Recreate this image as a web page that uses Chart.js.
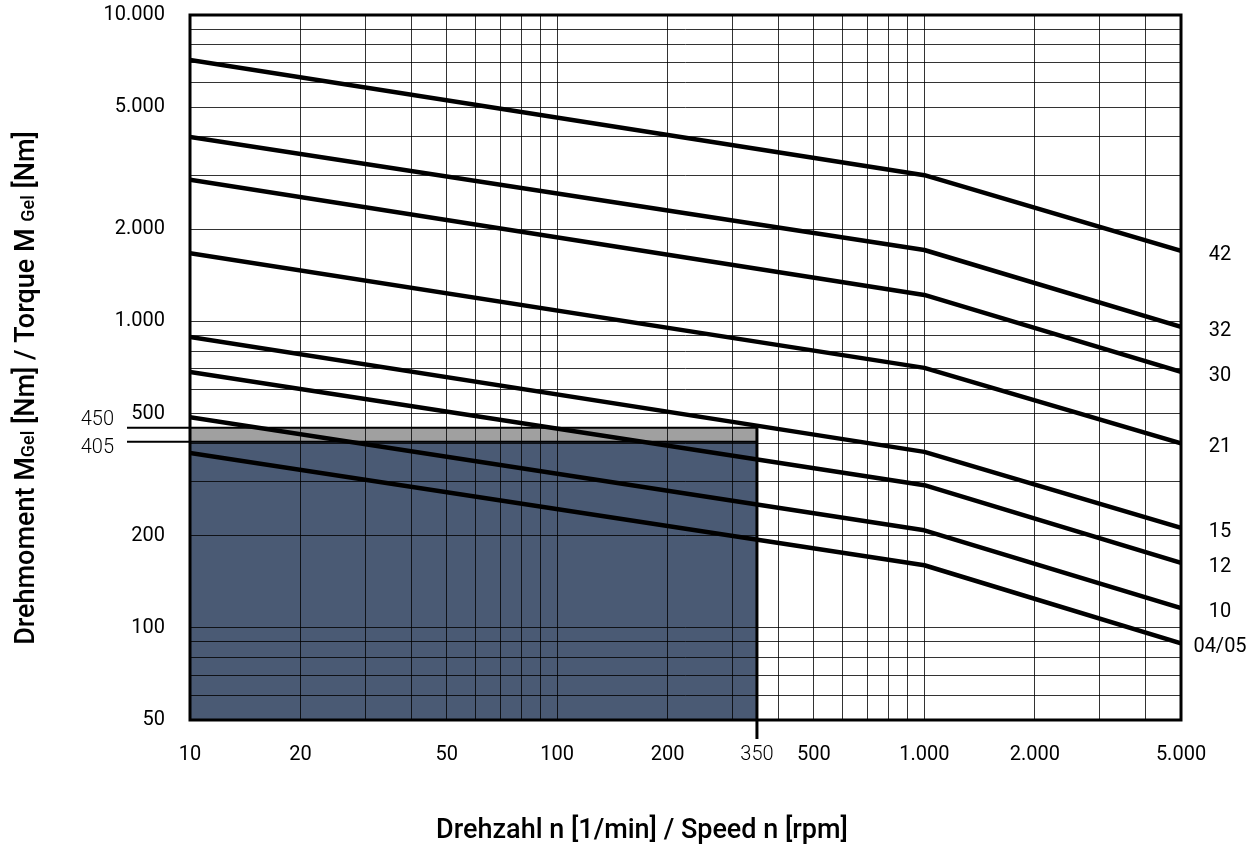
<!DOCTYPE html>
<html>
<head>
<meta charset="utf-8">
<script src="https://cdn.jsdelivr.net/npm/chart.js@4/dist/chart.umd.min.js"></script>
<style>
  html, body { margin: 0; padding: 0; background: #ffffff; }
  #wrap { width: 1259px; height: 850px; }
</style>
</head>
<body>
<div id="wrap"><canvas id="c" width="1259" height="850"></canvas></div>
<script>
// ---- data ----
const speeds = [10, 1000, 5000];
const seriesNames = ['42', '32', '30', '21', '15', '12', '10', '04/05'];
const torque42 = [7130, 3000, 1700];
const torque32 = [4000, 1710, 960];
const torque30 = [2900, 1220, 684];
const torque21 = [1670, 705, 400];
const torque15 = [890, 375, 212];
const torque12 = [684, 292, 163];
const torque10 = [487, 208, 116];
const torque0405 = [372, 160, 89];
const allTorques = [torque42, torque32, torque30, torque21, torque15, torque12, torque10, torque0405];

const xGridValues = [10,20,30,40,50,60,70,80,90,100,200,300,350,400,500,600,700,800,900,1000,2000,3000,4000,5000];
const xLabelValues = [10, 20, 50, 100, 200, 350, 500, 1000, 2000, 5000];
const xLabelTexts = ['10', '20', '50', '100', '200', '350', '500', '1.000', '2.000', '5.000'];
const yGridValues = [50,60,70,80,90,100,200,300,400,500,600,700,800,900,1000,2000,3000,4000,5000,6000,7000,8000,9000,10000];
const yLabelValues = [50, 100, 200, 500, 1000, 2000, 5000, 10000];
const yLabelTexts = ['50', '100', '200', '500', '1.000', '2.000', '5.000', '10.000'];

// permissible area
const areaSpeedMin = 10;
const areaSpeedMax = 350;
const areaTorqueLow = 405;
const areaTorqueHigh = 450;
const areaBottom = 50;
const markerLabels = ['450', '405'];

const FONT = 'Roboto, "Liberation Sans", sans-serif';

const areaPlugin = {
  id: 'area',
  beforeDraw(chart) {
    const ctx = chart.ctx;
    const xs = chart.scales.x, ys = chart.scales.y;
    const x0 = xs.getPixelForValue(areaSpeedMin), x1 = xs.getPixelForValue(areaSpeedMax);
    const yHi = ys.getPixelForValue(areaTorqueHigh), yLo = ys.getPixelForValue(areaTorqueLow);
    const yB = ys.getPixelForValue(areaBottom);
    ctx.save();
    ctx.fillStyle = '#a0a0a0';
    ctx.fillRect(x0, yHi, x1 - x0, yLo - yHi);
    ctx.fillStyle = '#4a5a74';
    ctx.fillRect(x0, yLo, x1 - x0, yB - yLo);
    ctx.restore();
  },
  afterDraw(chart) {
    const ctx = chart.ctx;
    const xs = chart.scales.x, ys = chart.scales.y;
    const a = chart.chartArea;
    const x1 = xs.getPixelForValue(areaSpeedMax);
    const yHi = ys.getPixelForValue(areaTorqueHigh), yLo = ys.getPixelForValue(areaTorqueLow);
    ctx.save();
    ctx.strokeStyle = '#000';
    // horizontal marker lines
    ctx.lineWidth = 2;
    ctx.beginPath();
    ctx.moveTo(a.left - 63, yHi); ctx.lineTo(x1, yHi);
    ctx.moveTo(a.left - 63, yLo); ctx.lineTo(x1, yLo);
    ctx.stroke();
    // vertical 350 line
    ctx.lineWidth = 3;
    ctx.beginPath();
    ctx.moveTo(x1, yHi); ctx.lineTo(x1, a.bottom + 19);
    ctx.stroke();
    // frame
    ctx.lineWidth = 3;
    ctx.strokeRect(a.left, a.top, a.right - a.left, a.bottom - a.top);
    // marker labels
    ctx.fillStyle = '#000';
    ctx.font = '300 20px ' + FONT;
    ctx.textAlign = 'right';
    ctx.textBaseline = 'middle';
    ctx.fillText(markerLabels[0], a.left - 76, yHi - 8);
    ctx.fillText(markerLabels[1], a.left - 76, yLo + 6);
    // series labels
    ctx.font = '400 20px ' + FONT;
    ctx.textAlign = 'center';
    allTorques.forEach((t, i) => {
      const y = ys.getPixelForValue(t[t.length - 1]);
      ctx.fillText(seriesNames[i], 1220, y + 4);
    });
    // x title
    ctx.font = '500 27px ' + FONT;
    ctx.textAlign = 'center';
    ctx.fillText('Drehzahl n [1/min] / Speed n [rpm]', 642, 831);
    // y title with smaller subscripts
    const segs = [
      ['Drehmoment M', 27], ['Gel', 18], [' [Nm] / Torque M ', 27], ['Gel', 18], [' [Nm]', 27]
    ];
    let total = 0;
    segs.forEach(s => { ctx.font = '500 ' + s[1] + 'px ' + FONT; s.push(ctx.measureText(s[0]).width); total += s[2]; });
    ctx.translate(25, 388);
    ctx.rotate(-Math.PI / 2);
    ctx.textAlign = 'left';
    ctx.textBaseline = 'alphabetic';
    let x = -total / 2;
    segs.forEach(s => {
      ctx.font = '500 ' + s[1] + 'px ' + FONT;
      ctx.fillText(s[0], x, 9);
      x += s[2];
    });
    ctx.restore();
  }
};

const datasets = allTorques.map((t, i) => ({
  label: seriesNames[i],
  data: speeds.map((s, j) => ({ x: s, y: t[j] })),
  borderColor: '#000',
  borderWidth: 4.5,
  pointRadius: 0,
  fill: false,
  tension: 0,
  borderJoinStyle: 'round'
}));

new Chart(document.getElementById('c'), {
  type: 'line',
  data: { datasets },
  plugins: [areaPlugin],
  options: {
    responsive: false,
    animation: false,
    events: [],
    layout: { padding: { top: 15, right: 78, left: 0, bottom: 0 } },
    plugins: { legend: { display: false }, tooltip: { enabled: false } },
    scales: {
      x: {
        type: 'logarithmic',
        min: 10, max: 5000,
        afterBuildTicks: (s) => { s.ticks = xGridValues.map(v => ({ value: v })); },
        afterFit: (s) => { s.height = 130; s.paddingLeft = 0; s.paddingRight = 0; },
        border: { display: false },
        grid: {
          drawTicks: false,
          lineWidth: 1,
          color: (c) => (c.tick && c.tick.value === areaSpeedMax) ? 'rgba(0,0,0,0)' : 'rgba(0,0,0,0.8)'
        },
        ticks: {
          autoSkip: false, maxRotation: 0, minRotation: 0, padding: 23,
          color: '#000',
          font: (c) => ({ family: FONT, size: 20, weight: (c.tick && c.tick.value === areaSpeedMax) ? '300' : '400' }),
          callback: (v) => { const k = xLabelValues.indexOf(v); return k >= 0 ? xLabelTexts[k] : ''; }
        }
      },
      y: {
        type: 'logarithmic',
        min: 50, max: 10000,
        afterBuildTicks: (s) => { s.ticks = yGridValues.map(v => ({ value: v })); },
        afterFit: (s) => { s.width = 190; s.paddingTop = 0; s.paddingBottom = 0; },
        border: { display: false },
        grid: { drawTicks: false, lineWidth: 1, color: 'rgba(0,0,0,0.8)' },
        ticks: {
          autoSkip: false, padding: 25, color: '#000',
          font: { family: FONT, size: 20, weight: '400' },
          callback: (v) => { const k = yLabelValues.indexOf(v); return k >= 0 ? yLabelTexts[k] : ''; }
        }
      }
    }
  }
});
</script>
</body>
</html>
